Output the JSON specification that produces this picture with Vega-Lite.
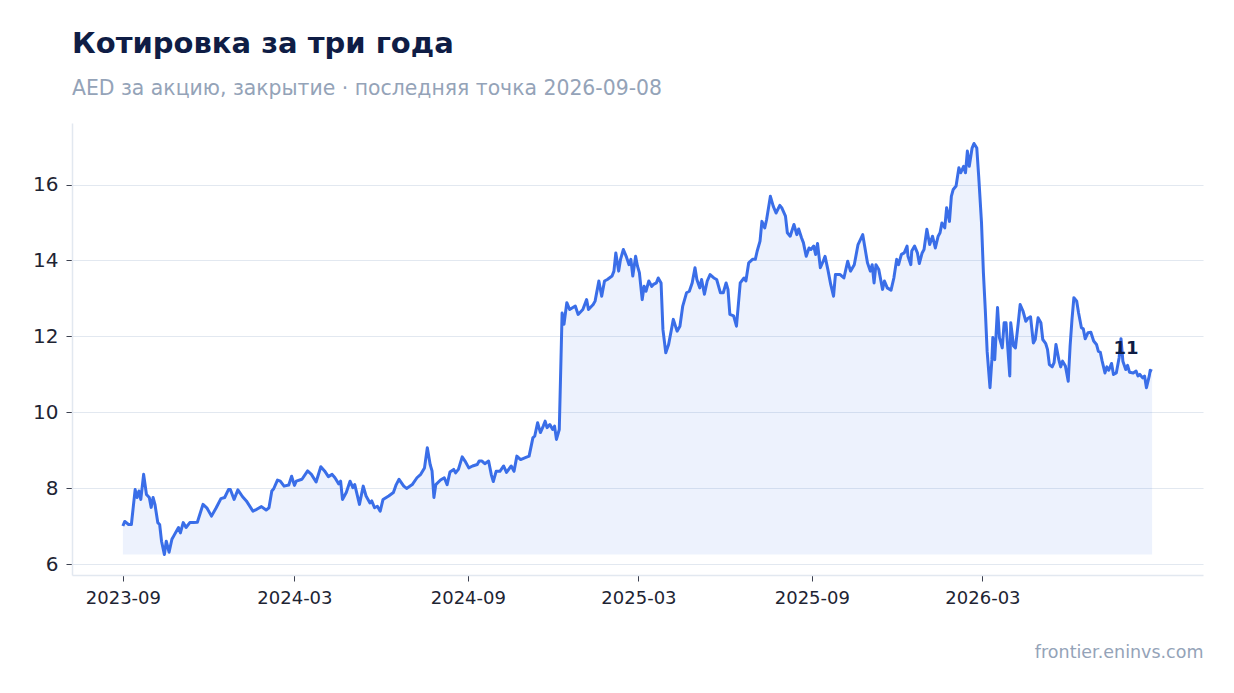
{
  "$schema": "https://vega.github.io/schema/vega-lite/v6.json",
  "width": 1131,
  "height": 452,
  "autosize": {"type": "none"},
  "padding": {"left": 72, "top": 123, "right": 31, "bottom": 118},
  "background": "white",
  "config": {"font": "DejaVu Sans", "view": {"stroke": null}},
  "title": {
    "text": "Котировка за три года",
    "subtitle": "AED за акцию, закрытие · последняя точка 2026-09-08",
    "anchor": "start",
    "frame": "group",
    "font": "DejaVu Sans",
    "fontSize": 29,
    "fontWeight": "bold",
    "color": "#0f1d45",
    "subtitleFont": "DejaVu Sans",
    "subtitleFontSize": 20.4,
    "subtitleColor": "#94a3b8",
    "subtitlePadding": 20,
    "offset": 24
  },
  "data": {"values": [
    {"date": "2023-09-01", "close": 7.01}, {"date": "2023-09-03", "close": 7.13}, {"date": "2023-09-07", "close": 7.05}, {"date": "2023-09-10", "close": 7.05},
    {"date": "2023-09-14", "close": 7.97}, {"date": "2023-09-16", "close": 7.76}, {"date": "2023-09-18", "close": 7.93}, {"date": "2023-09-20", "close": 7.71},
    {"date": "2023-09-23", "close": 8.37}, {"date": "2023-09-26", "close": 7.84}, {"date": "2023-09-29", "close": 7.76}, {"date": "2023-10-01", "close": 7.5},
    {"date": "2023-10-03", "close": 7.76}, {"date": "2023-10-05", "close": 7.58}, {"date": "2023-10-08", "close": 7.1}, {"date": "2023-10-10", "close": 7.05},
    {"date": "2023-10-12", "close": 6.61}, {"date": "2023-10-15", "close": 6.26}, {"date": "2023-10-17", "close": 6.61}, {"date": "2023-10-20", "close": 6.32},
    {"date": "2023-10-23", "close": 6.66}, {"date": "2023-10-25", "close": 6.75}, {"date": "2023-10-30", "close": 6.97}, {"date": "2023-11-01", "close": 6.83},
    {"date": "2023-11-04", "close": 7.1}, {"date": "2023-11-07", "close": 6.97}, {"date": "2023-11-11", "close": 7.1}, {"date": "2023-11-15", "close": 7.1},
    {"date": "2023-11-19", "close": 7.11}, {"date": "2023-11-25", "close": 7.58}, {"date": "2023-11-29", "close": 7.49}, {"date": "2023-12-04", "close": 7.27},
    {"date": "2023-12-09", "close": 7.49}, {"date": "2023-12-14", "close": 7.73}, {"date": "2023-12-18", "close": 7.76}, {"date": "2023-12-22", "close": 7.97},
    {"date": "2023-12-24", "close": 7.97}, {"date": "2023-12-28", "close": 7.71}, {"date": "2024-01-01", "close": 7.96}, {"date": "2024-01-06", "close": 7.78},
    {"date": "2024-01-10", "close": 7.67}, {"date": "2024-01-17", "close": 7.4}, {"date": "2024-01-21", "close": 7.45}, {"date": "2024-01-26", "close": 7.52},
    {"date": "2024-01-31", "close": 7.43}, {"date": "2024-02-03", "close": 7.49}, {"date": "2024-02-06", "close": 7.93}, {"date": "2024-02-08", "close": 7.99},
    {"date": "2024-02-12", "close": 8.22}, {"date": "2024-02-15", "close": 8.19}, {"date": "2024-02-19", "close": 8.06}, {"date": "2024-02-24", "close": 8.09},
    {"date": "2024-02-27", "close": 8.32}, {"date": "2024-03-01", "close": 8.08}, {"date": "2024-03-03", "close": 8.19}, {"date": "2024-03-09", "close": 8.24},
    {"date": "2024-03-15", "close": 8.46}, {"date": "2024-03-19", "close": 8.37}, {"date": "2024-03-24", "close": 8.17}, {"date": "2024-03-29", "close": 8.57},
    {"date": "2024-04-02", "close": 8.46}, {"date": "2024-04-06", "close": 8.31}, {"date": "2024-04-10", "close": 8.37}, {"date": "2024-04-13", "close": 8.28},
    {"date": "2024-04-17", "close": 8.12}, {"date": "2024-04-19", "close": 8.19}, {"date": "2024-04-21", "close": 7.71}, {"date": "2024-04-25", "close": 7.89},
    {"date": "2024-04-29", "close": 8.19}, {"date": "2024-05-02", "close": 8.02}, {"date": "2024-05-04", "close": 8.1}, {"date": "2024-05-09", "close": 7.58},
    {"date": "2024-05-13", "close": 8.06}, {"date": "2024-05-16", "close": 7.8}, {"date": "2024-05-20", "close": 7.62}, {"date": "2024-05-22", "close": 7.67},
    {"date": "2024-05-25", "close": 7.49}, {"date": "2024-05-28", "close": 7.53}, {"date": "2024-05-31", "close": 7.4}, {"date": "2024-06-03", "close": 7.71},
    {"date": "2024-06-09", "close": 7.8}, {"date": "2024-06-14", "close": 7.89}, {"date": "2024-06-17", "close": 8.1}, {"date": "2024-06-20", "close": 8.24},
    {"date": "2024-06-25", "close": 8.06}, {"date": "2024-06-28", "close": 8.0}, {"date": "2024-07-04", "close": 8.1}, {"date": "2024-07-09", "close": 8.28},
    {"date": "2024-07-13", "close": 8.37}, {"date": "2024-07-17", "close": 8.54}, {"date": "2024-07-20", "close": 9.07}, {"date": "2024-07-23", "close": 8.63},
    {"date": "2024-07-25", "close": 8.46}, {"date": "2024-07-27", "close": 7.76}, {"date": "2024-07-29", "close": 8.1}, {"date": "2024-08-03", "close": 8.22},
    {"date": "2024-08-07", "close": 8.28}, {"date": "2024-08-10", "close": 8.1}, {"date": "2024-08-13", "close": 8.43}, {"date": "2024-08-17", "close": 8.5},
    {"date": "2024-08-19", "close": 8.41}, {"date": "2024-08-22", "close": 8.5}, {"date": "2024-08-26", "close": 8.83}, {"date": "2024-08-29", "close": 8.72},
    {"date": "2024-09-02", "close": 8.54}, {"date": "2024-09-06", "close": 8.59}, {"date": "2024-09-11", "close": 8.63}, {"date": "2024-09-13", "close": 8.72},
    {"date": "2024-09-16", "close": 8.72}, {"date": "2024-09-19", "close": 8.65}, {"date": "2024-09-23", "close": 8.72}, {"date": "2024-09-26", "close": 8.35},
    {"date": "2024-09-28", "close": 8.18}, {"date": "2024-10-01", "close": 8.45}, {"date": "2024-10-05", "close": 8.45}, {"date": "2024-10-09", "close": 8.59},
    {"date": "2024-10-12", "close": 8.42}, {"date": "2024-10-17", "close": 8.59}, {"date": "2024-10-20", "close": 8.45}, {"date": "2024-10-23", "close": 8.85},
    {"date": "2024-10-27", "close": 8.76}, {"date": "2024-11-01", "close": 8.81}, {"date": "2024-11-05", "close": 8.85}, {"date": "2024-11-09", "close": 9.33},
    {"date": "2024-11-11", "close": 9.38}, {"date": "2024-11-14", "close": 9.73}, {"date": "2024-11-17", "close": 9.47}, {"date": "2024-11-20", "close": 9.64},
    {"date": "2024-11-22", "close": 9.77}, {"date": "2024-11-24", "close": 9.6}, {"date": "2024-11-27", "close": 9.68}, {"date": "2024-11-30", "close": 9.55},
    {"date": "2024-12-02", "close": 9.64}, {"date": "2024-12-04", "close": 9.29}, {"date": "2024-12-07", "close": 9.55}, {"date": "2024-12-10", "close": 12.62},
    {"date": "2024-12-12", "close": 12.32}, {"date": "2024-12-15", "close": 12.89}, {"date": "2024-12-18", "close": 12.71}, {"date": "2024-12-24", "close": 12.8},
    {"date": "2024-12-27", "close": 12.58}, {"date": "2025-01-01", "close": 12.71}, {"date": "2025-01-05", "close": 12.97}, {"date": "2025-01-07", "close": 12.71},
    {"date": "2025-01-12", "close": 12.84}, {"date": "2025-01-14", "close": 12.93}, {"date": "2025-01-18", "close": 13.46}, {"date": "2025-01-21", "close": 13.06},
    {"date": "2025-01-24", "close": 13.46}, {"date": "2025-01-27", "close": 13.5}, {"date": "2025-02-01", "close": 13.59}, {"date": "2025-02-03", "close": 13.72},
    {"date": "2025-02-05", "close": 14.2}, {"date": "2025-02-08", "close": 13.72}, {"date": "2025-02-10", "close": 14.03}, {"date": "2025-02-13", "close": 14.29},
    {"date": "2025-02-16", "close": 14.11}, {"date": "2025-02-19", "close": 13.89}, {"date": "2025-02-21", "close": 14.03}, {"date": "2025-02-23", "close": 13.59},
    {"date": "2025-02-26", "close": 14.11}, {"date": "2025-02-28", "close": 13.85}, {"date": "2025-03-02", "close": 13.68}, {"date": "2025-03-05", "close": 12.97},
    {"date": "2025-03-07", "close": 13.32}, {"date": "2025-03-09", "close": 13.19}, {"date": "2025-03-12", "close": 13.46}, {"date": "2025-03-15", "close": 13.32},
    {"date": "2025-03-17", "close": 13.37}, {"date": "2025-03-20", "close": 13.41}, {"date": "2025-03-22", "close": 13.54}, {"date": "2025-03-25", "close": 13.41},
    {"date": "2025-03-27", "close": 12.18}, {"date": "2025-03-30", "close": 11.57}, {"date": "2025-04-02", "close": 11.79}, {"date": "2025-04-04", "close": 12.05},
    {"date": "2025-04-07", "close": 12.45}, {"date": "2025-04-11", "close": 12.14}, {"date": "2025-04-14", "close": 12.27}, {"date": "2025-04-17", "close": 12.8},
    {"date": "2025-04-21", "close": 13.15}, {"date": "2025-04-24", "close": 13.19}, {"date": "2025-04-27", "close": 13.41}, {"date": "2025-04-30", "close": 13.81},
    {"date": "2025-05-02", "close": 13.5}, {"date": "2025-05-05", "close": 13.28}, {"date": "2025-05-07", "close": 13.5}, {"date": "2025-05-10", "close": 13.11},
    {"date": "2025-05-13", "close": 13.46}, {"date": "2025-05-16", "close": 13.63}, {"date": "2025-05-20", "close": 13.54}, {"date": "2025-05-23", "close": 13.5},
    {"date": "2025-05-27", "close": 13.15}, {"date": "2025-05-30", "close": 13.15}, {"date": "2025-06-02", "close": 13.41}, {"date": "2025-06-04", "close": 13.24},
    {"date": "2025-06-06", "close": 12.58}, {"date": "2025-06-10", "close": 12.54}, {"date": "2025-06-13", "close": 12.27}, {"date": "2025-06-15", "close": 12.84},
    {"date": "2025-06-17", "close": 13.41}, {"date": "2025-06-21", "close": 13.54}, {"date": "2025-06-23", "close": 13.46}, {"date": "2025-06-26", "close": 13.94},
    {"date": "2025-06-30", "close": 14.03}, {"date": "2025-07-03", "close": 14.03}, {"date": "2025-07-05", "close": 14.25}, {"date": "2025-07-08", "close": 14.51},
    {"date": "2025-07-10", "close": 15.03}, {"date": "2025-07-13", "close": 14.86}, {"date": "2025-07-15", "close": 15.08}, {"date": "2025-07-19", "close": 15.69},
    {"date": "2025-07-22", "close": 15.43}, {"date": "2025-07-25", "close": 15.25}, {"date": "2025-07-29", "close": 15.45}, {"date": "2025-07-31", "close": 15.39},
    {"date": "2025-08-04", "close": 15.17}, {"date": "2025-08-06", "close": 14.73}, {"date": "2025-08-09", "close": 14.64}, {"date": "2025-08-13", "close": 14.95},
    {"date": "2025-08-16", "close": 14.68}, {"date": "2025-08-18", "close": 14.83}, {"date": "2025-08-21", "close": 14.6}, {"date": "2025-08-23", "close": 14.47},
    {"date": "2025-08-26", "close": 14.11}, {"date": "2025-08-29", "close": 14.33}, {"date": "2025-08-31", "close": 14.29}, {"date": "2025-09-03", "close": 14.38},
    {"date": "2025-09-05", "close": 14.16}, {"date": "2025-09-07", "close": 14.45}, {"date": "2025-09-10", "close": 13.81}, {"date": "2025-09-13", "close": 13.98},
    {"date": "2025-09-15", "close": 14.11}, {"date": "2025-09-18", "close": 13.76}, {"date": "2025-09-21", "close": 13.37}, {"date": "2025-09-24", "close": 13.06},
    {"date": "2025-09-26", "close": 13.63}, {"date": "2025-10-01", "close": 13.63}, {"date": "2025-10-05", "close": 13.54}, {"date": "2025-10-09", "close": 13.98},
    {"date": "2025-10-12", "close": 13.72}, {"date": "2025-10-16", "close": 13.89}, {"date": "2025-10-20", "close": 14.42}, {"date": "2025-10-25", "close": 14.68},
    {"date": "2025-10-27", "close": 14.38}, {"date": "2025-10-30", "close": 13.94}, {"date": "2025-11-02", "close": 13.72}, {"date": "2025-11-04", "close": 13.89},
    {"date": "2025-11-06", "close": 13.41}, {"date": "2025-11-08", "close": 13.89}, {"date": "2025-11-11", "close": 13.76}, {"date": "2025-11-15", "close": 13.24},
    {"date": "2025-11-17", "close": 13.46}, {"date": "2025-11-20", "close": 13.28}, {"date": "2025-11-24", "close": 13.22}, {"date": "2025-11-27", "close": 13.54},
    {"date": "2025-11-30", "close": 14.03}, {"date": "2025-12-02", "close": 13.89}, {"date": "2025-12-05", "close": 14.16}, {"date": "2025-12-08", "close": 14.2},
    {"date": "2025-12-11", "close": 14.38}, {"date": "2025-12-12", "close": 14.11}, {"date": "2025-12-15", "close": 13.89}, {"date": "2025-12-16", "close": 14.25},
    {"date": "2025-12-19", "close": 14.38}, {"date": "2025-12-22", "close": 14.2}, {"date": "2025-12-24", "close": 13.92}, {"date": "2025-12-27", "close": 14.2},
    {"date": "2025-12-29", "close": 14.29}, {"date": "2026-01-01", "close": 14.82}, {"date": "2026-01-04", "close": 14.42}, {"date": "2026-01-07", "close": 14.64},
    {"date": "2026-01-10", "close": 14.33}, {"date": "2026-01-13", "close": 14.64}, {"date": "2026-01-15", "close": 14.73}, {"date": "2026-01-17", "close": 14.99},
    {"date": "2026-01-20", "close": 14.86}, {"date": "2026-01-22", "close": 15.39}, {"date": "2026-01-25", "close": 15.03}, {"date": "2026-01-27", "close": 15.69},
    {"date": "2026-01-29", "close": 15.87}, {"date": "2026-02-01", "close": 15.96}, {"date": "2026-02-04", "close": 16.44}, {"date": "2026-02-06", "close": 16.31},
    {"date": "2026-02-09", "close": 16.48}, {"date": "2026-02-11", "close": 16.31}, {"date": "2026-02-13", "close": 16.88}, {"date": "2026-02-15", "close": 16.48},
    {"date": "2026-02-18", "close": 16.96}, {"date": "2026-02-20", "close": 17.08}, {"date": "2026-02-23", "close": 16.96}, {"date": "2026-02-25", "close": 16.22},
    {"date": "2026-02-28", "close": 14.99}, {"date": "2026-03-02", "close": 13.68}, {"date": "2026-03-04", "close": 12.71}, {"date": "2026-03-06", "close": 11.6},
    {"date": "2026-03-09", "close": 10.65}, {"date": "2026-03-11", "close": 11.39}, {"date": "2026-03-12", "close": 11.97}, {"date": "2026-03-14", "close": 11.39},
    {"date": "2026-03-17", "close": 12.76}, {"date": "2026-03-19", "close": 11.97}, {"date": "2026-03-22", "close": 11.7}, {"date": "2026-03-24", "close": 12.36},
    {"date": "2026-03-26", "close": 12.36}, {"date": "2026-03-28", "close": 11.66}, {"date": "2026-03-30", "close": 10.96}, {"date": "2026-03-31", "close": 12.36},
    {"date": "2026-04-03", "close": 11.75}, {"date": "2026-04-05", "close": 11.7}, {"date": "2026-04-08", "close": 12.36}, {"date": "2026-04-10", "close": 12.84},
    {"date": "2026-04-13", "close": 12.67}, {"date": "2026-04-16", "close": 12.4}, {"date": "2026-04-18", "close": 12.47}, {"date": "2026-04-21", "close": 12.52},
    {"date": "2026-04-24", "close": 11.83}, {"date": "2026-04-26", "close": 11.92}, {"date": "2026-04-29", "close": 12.49}, {"date": "2026-05-02", "close": 12.36},
    {"date": "2026-05-04", "close": 11.92}, {"date": "2026-05-07", "close": 11.82}, {"date": "2026-05-09", "close": 11.66}, {"date": "2026-05-11", "close": 11.26},
    {"date": "2026-05-14", "close": 11.2}, {"date": "2026-05-16", "close": 11.31}, {"date": "2026-05-18", "close": 11.79}, {"date": "2026-05-21", "close": 11.39},
    {"date": "2026-05-23", "close": 11.2}, {"date": "2026-05-25", "close": 11.35}, {"date": "2026-05-28", "close": 11.22}, {"date": "2026-05-31", "close": 10.82},
    {"date": "2026-06-02", "close": 11.75}, {"date": "2026-06-04", "close": 12.45}, {"date": "2026-06-06", "close": 13.02}, {"date": "2026-06-09", "close": 12.93},
    {"date": "2026-06-11", "close": 12.62}, {"date": "2026-06-14", "close": 12.23}, {"date": "2026-06-16", "close": 12.2}, {"date": "2026-06-18", "close": 11.94},
    {"date": "2026-06-21", "close": 12.1}, {"date": "2026-06-24", "close": 12.11}, {"date": "2026-06-27", "close": 11.88}, {"date": "2026-06-30", "close": 11.79},
    {"date": "2026-07-02", "close": 11.61}, {"date": "2026-07-04", "close": 11.59}, {"date": "2026-07-06", "close": 11.35}, {"date": "2026-07-09", "close": 11.04},
    {"date": "2026-07-11", "close": 11.2}, {"date": "2026-07-13", "close": 11.11}, {"date": "2026-07-16", "close": 11.29}, {"date": "2026-07-18", "close": 11.0},
    {"date": "2026-07-21", "close": 11.04}, {"date": "2026-07-24", "close": 11.44}, {"date": "2026-07-26", "close": 11.94}, {"date": "2026-07-28", "close": 11.35},
    {"date": "2026-07-31", "close": 11.13}, {"date": "2026-08-02", "close": 11.24}, {"date": "2026-08-04", "close": 11.06}, {"date": "2026-08-08", "close": 11.04},
    {"date": "2026-08-11", "close": 11.09}, {"date": "2026-08-13", "close": 10.96}, {"date": "2026-08-15", "close": 11.0}, {"date": "2026-08-18", "close": 10.91},
    {"date": "2026-08-20", "close": 10.96}, {"date": "2026-08-22", "close": 10.65}, {"date": "2026-08-25", "close": 10.96}, {"date": "2026-08-26", "close": 11.11},
    {"date": "2026-08-28", "close": 11.09}
  ]},
  "transform": [
    {"joinaggregate": [{"op": "min", "field": "close", "as": "low"}, {"op": "max", "field": "date", "as": "last"}]}
  ],
  "encoding": {
    "x": {
      "field": "date",
      "type": "temporal",
      "scale": {"type": "utc", "domain": [{"year": 2023, "month": 7, "date": 9, "utc": true}, {"year": 2026, "month": 10, "date": 21, "utc": true}]},
      "axis": {
        "values": [
          {"year": 2023, "month": 9, "date": 1, "utc": true},
          {"year": 2024, "month": 3, "date": 1, "utc": true},
          {"year": 2024, "month": 9, "date": 1, "utc": true},
          {"year": 2025, "month": 3, "date": 1, "utc": true},
          {"year": 2025, "month": 9, "date": 1, "utc": true},
          {"year": 2026, "month": 3, "date": 1, "utc": true}
        ],
        "labelExpr": "utcFormat(datum.value, '%Y-%m')",
        "grid": false,
        "labelFont": "DejaVu Sans",
        "labelFontSize": 18,
        "labelColor": "#1e2433",
        "labelPadding": 8,
        "tickColor": "#3c4150",
        "tickSize": 6,
        "domainColor": "#e2e8f0",
        "domainWidth": 1.5,
        "title": "frontier.eninvs.com",
        "titleAnchor": "end",
        "titleAlign": "right",
        "titleFont": "DejaVu Sans",
        "titleFontSize": 17.5,
        "titleFontWeight": "normal",
        "titleColor": "#94a3b8",
        "titlePadding": 36
      }
    }
  },
  "layer": [
    {
      "mark": {"type": "area", "color": "#3a6ee8", "opacity": 0.09},
      "encoding": {
        "y": {
          "field": "close",
          "type": "quantitative",
          "scale": {"domain": [5.72, 17.62], "nice": false, "zero": false},
          "axis": {
            "values": [6, 8, 10, 12, 14, 16],
            "title": null,
            "labelFont": "DejaVu Sans",
            "labelFontSize": 20,
            "labelColor": "#1e2433",
            "labelPadding": 8,
            "tickColor": "#3c4150",
            "tickSize": 6,
            "domainColor": "#e2e8f0",
            "domainWidth": 1.5,
            "gridColor": "#e2e8f0",
            "gridWidth": 1.2
          }
        },
        "y2": {"field": "low"}
      }
    },
    {
      "mark": {"type": "line", "color": "#3a6ee8", "strokeWidth": 3, "strokeJoin": "round"},
      "encoding": {"y": {"field": "close", "type": "quantitative"}}
    },
    {
      "transform": [{"filter": "time(datum.date) === time(datum.last)"}],
      "mark": {"type": "text", "dx": -26, "dy": -22, "fontSize": 18, "fontWeight": "bold", "color": "#0f1d45", "font": "DejaVu Sans"},
      "encoding": {
        "y": {"field": "close", "type": "quantitative"},
        "text": {"field": "close", "type": "quantitative", "format": ".0f"}
      }
    }
  ]
}
